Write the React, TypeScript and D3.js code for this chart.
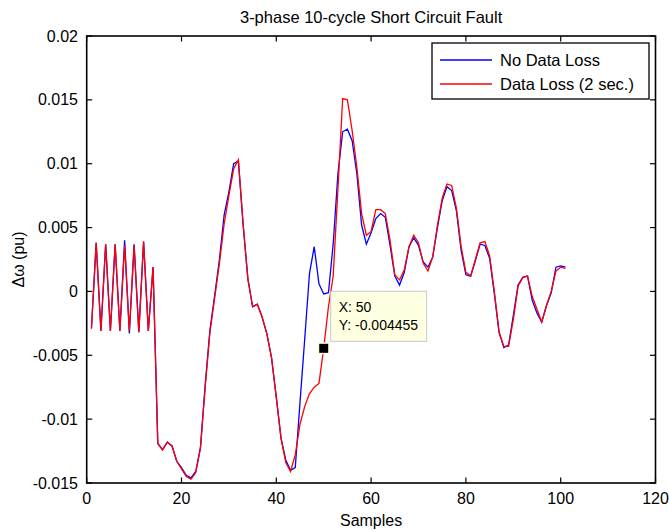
import React from "react";
import * as d3 from "d3";

const TITLE = "3-phase 10-cycle Short Circuit Fault";
const X_LABEL = "Samples";
const Y_LABEL = "\u0394\u03c9 (pu)";
const X_TICKS = [0, 20, 40, 60, 80, 100, 120];
const Y_TICKS = [-0.015, -0.01, -0.005, 0, 0.005, 0.01, 0.015, 0.02];
const Y_TICK_LABELS = ["-0.015", "-0.01", "-0.005", "0", "0.005", "0.01", "0.015", "0.02"];
const SERIES_NAMES = ["No Data Loss", "Data Loss (2 sec.)"];

// samples 1..101
const noLoss = [
  -0.0029, 0.0038, -0.0031, 0.0037, -0.0031, 0.0037, -0.0031, 0.004, -0.0033, 0.0037,
  -0.0032, 0.0039, -0.0031, 0.0019, -0.0119, -0.0124, -0.0118, -0.0121, -0.0133, -0.0138,
  -0.0144, -0.0146, -0.0141, -0.0122, -0.0073, -0.003, -0.0003, 0.0025, 0.006, 0.0078,
  0.01, 0.0102, 0.0052, 0.001, -0.0012, -0.001, -0.002, -0.0033, -0.0052, -0.0083,
  -0.0115, -0.0132, -0.014, -0.0138, -0.0087, -0.0037, 0.0014, 0.0035, 0.0006, -0.0002,
  -0.0001, 0.0037, 0.0092, 0.0125, 0.0127, 0.0118, 0.0092, 0.0052, 0.0037, 0.0046,
  0.0057, 0.0061, 0.0058, 0.0036, 0.0012, 0.0005, 0.0015, 0.0035, 0.0042, 0.0036,
  0.0023, 0.0019, 0.0027, 0.005, 0.0071, 0.0082, 0.0079, 0.0063, 0.0032, 0.0013,
  0.0012, 0.0024, 0.0037, 0.0036, 0.0026, -0.0002, -0.0032, -0.0044, -0.0042, -0.0019,
  0.0005, 0.0011, 0.0012, -0.0007, -0.0017, -0.0024, -0.0011, -0.0001, 0.0019, 0.002,
  0.0019,
];

const dataLoss = [
  -0.0029, 0.0038, -0.0031, 0.0037, -0.0031, 0.0037, -0.0031, 0.0036, -0.0031, 0.0036,
  -0.0032, 0.0039, -0.0031, 0.0019, -0.0119, -0.0124, -0.0118, -0.0121, -0.0133, -0.0139,
  -0.0145, -0.0147, -0.0142, -0.0123, -0.0075, -0.0032, -0.0005, 0.0022, 0.0053, 0.0075,
  0.0096, 0.0103, 0.0053, 0.001, -0.0012, -0.001, -0.002, -0.0033, -0.0052, -0.0083,
  -0.0115, -0.0134, -0.0141, -0.0128, -0.0104, -0.009, -0.008, -0.0075, -0.0072, -0.004455,
  -0.0012, 0.0012, 0.008, 0.0151, 0.015, 0.0126, 0.0097, 0.0061, 0.0044, 0.0047,
  0.0064, 0.0064, 0.0061, 0.004, 0.0013, 0.0009, 0.0017, 0.0035, 0.0044, 0.0038,
  0.0022, 0.0016, 0.0027, 0.0052, 0.0073, 0.0084, 0.0083, 0.0065, 0.0035, 0.0015,
  0.0012, 0.0025, 0.0038, 0.0039, 0.0028, 0.0, -0.0032, -0.0043, -0.0043, -0.0022,
  0.0004, 0.0011, 0.0012, -0.0004, -0.0014, -0.0024, -0.0011, 0.0, 0.0016, 0.0019,
  0.0018,
];

const TIP_X = 50;
const TIP_Y = -0.004455;

const W = 669;
const H = 531;
const L = 86.7;
const R = 655.5;
const T = 36;
const B = 483;
const FONT = "Arial, 'Liberation Sans', Helvetica, sans-serif";

export default function App() {
  const x = d3.scaleLinear().domain([0, 120]).range([L, R]);
  const y = d3.scaleLinear().domain([-0.015, 0.02]).range([B, T]);
  const line = d3
    .line<number>()
    .x((_, i) => x(i + 1))
    .y((d) => y(d));
  const tk = 5.5;

  const tx = x(TIP_X);
  const ty = y(TIP_Y);

  return (
    <svg
      width={W}
      height={H}
      style={{ position: "absolute", left: 0, top: 0, background: "#fff" }}
      fontFamily={FONT}
    >
      <rect x={0} y={0} width={W} height={H} fill="#fff" />
      <text x={(L + R) / 2} y={23} textAnchor="middle" fontSize={16.5} fill="#000">
        {TITLE}
      </text>

      <path d={line(noLoss) || ""} fill="none" stroke="#0000ff" strokeWidth={1.3} />
      <path d={line(dataLoss) || ""} fill="none" stroke="#ff0000" strokeWidth={1.3} />

      {/* axes box */}
      <rect x={L} y={T} width={R - L} height={B - T} fill="none" stroke="#000" strokeWidth={1.6} />
      {X_TICKS.map((t) => (
        <g key={"x" + t}>
          <line x1={x(t)} x2={x(t)} y1={B} y2={B - tk} stroke="#000" strokeWidth={1.2} />
          <line x1={x(t)} x2={x(t)} y1={T} y2={T + tk} stroke="#000" strokeWidth={1.2} />
          <text x={x(t)} y={504} textAnchor="middle" fontSize={16} fill="#000">
            {t}
          </text>
        </g>
      ))}
      {Y_TICKS.map((t, i) => (
        <g key={"y" + t}>
          <line x1={L} x2={L + tk} y1={y(t)} y2={y(t)} stroke="#000" strokeWidth={1.2} />
          <line x1={R} x2={R - tk} y1={y(t)} y2={y(t)} stroke="#000" strokeWidth={1.2} />
          <text x={78} y={y(t) + 5.5} textAnchor="end" fontSize={16} fill="#000">
            {Y_TICK_LABELS[i]}
          </text>
        </g>
      ))}

      <text x={(L + R) / 2} y={526} textAnchor="middle" fontSize={16} fill="#000">
        {X_LABEL}
      </text>
      <text
        transform={`translate(24, ${(T + B) / 2}) rotate(-90)`}
        textAnchor="middle"
        fontSize={16}
        fill="#000"
      >
        {Y_LABEL}
      </text>

      {/* legend */}
      <rect x={432} y={43} width={217} height={56} fill="#fff" stroke="#000" strokeWidth={1.3} />
      <line x1={440} x2={492} y1={60} y2={60} stroke="#0000ff" strokeWidth={1.3} />
      <line x1={440} x2={492} y1={84} y2={84} stroke="#ff0000" strokeWidth={1.3} />
      <text x={500} y={66} fontSize={16.5} fill="#000">
        {SERIES_NAMES[0]}
      </text>
      <text x={500} y={90} fontSize={16.5} fill="#000">
        {SERIES_NAMES[1]}
      </text>

      {/* data tip */}
      <rect x={tx + 7} y={ty - 57} width={96} height={50} fill="#ffffe1" stroke="#c8c8c8" strokeWidth={1} />
      <text x={tx + 15} y={ty - 36} fontSize={14} fill="#000">
        {`X: ${TIP_X}`}
      </text>
      <text x={tx + 15} y={ty - 18} fontSize={14} fill="#000">
        {`Y: ${TIP_Y}`}
      </text>
      <rect x={tx - 6} y={ty - 6} width={12} height={12} fill="#ffffe1" />
      <rect x={tx - 4.5} y={ty - 4.5} width={9} height={9} fill="#000" />
    </svg>
  );
}
